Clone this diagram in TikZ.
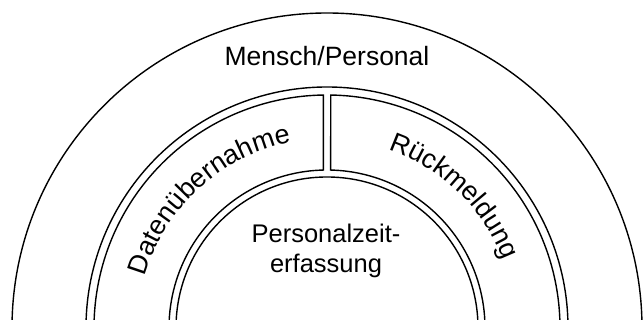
\documentclass[tikz,border=0pt]{standalone}
\usepackage{fontspec}
\setmainfont{Liberation Sans}
\usetikzlibrary{calc,decorations.text}
\newcommand\lblfont{\fontsize{25.5}{30.3}\selectfont}
\newcommand\arcfont{\fontsize{27}{32}\selectfont}
\begin{document}
\begin{tikzpicture}[x=1pt,y=1pt,
  ringline/.style={draw=black, line width=1.4pt},
  lbl/.style={font=\lblfont, inner sep=0pt},
  arctext/.style={decorate, decoration={text along path, text align=center, text={|\arcfont|#1}}}]
\useasboundingbox (0,0) rectangle (643,320);
\clip (0,0) rectangle (643,320);
\coordinate (C) at (327,-8);
\draw[ringline] (C) circle[radius=315];
\draw[ringline] (C) circle[radius=241];
\draw[ringline] (C) circle[radius=151];
% left segment
\draw[ringline] ($(C)+(90.91:233)$) arc[start angle=90.91, end angle=200, radius=233]
  -- ($(C)+(200:158)$) arc[start angle=200, end angle=91.34, radius=158] -- cycle;
% right segment
\draw[ringline] ($(C)+(89.09:233)$) arc[start angle=89.09, end angle=-20, radius=233]
  -- ($(C)+(-20:158)$) arc[start angle=-20, end angle=88.66, radius=158] -- cycle;
\node[lbl, anchor=base, font=\fontsize{26.5}{30}\selectfont] (mensch) at (327,254) {Mensch/Personal};
\node[lbl, anchor=base, align=center] (pze) at (326,47) {Personalzeit-\\erfassung};
\path[arctext={Datenübernahme}] ($(C)+(168:189)$) arc[start angle=168, end angle=97, radius=189];
\path[arctext={Rückmeldung}] ($(C)+(72:189)$) arc[start angle=72, end angle=20, radius=189];
\end{tikzpicture}
\end{document}
